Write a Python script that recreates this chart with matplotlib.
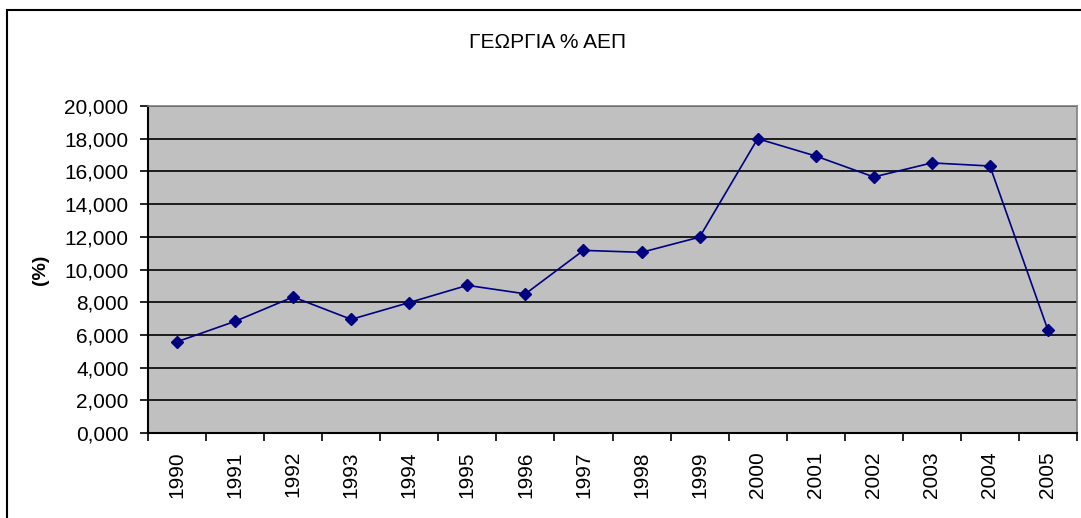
import matplotlib
matplotlib.use('Agg')
import matplotlib.pyplot as plt
from matplotlib.patches import Rectangle
from matplotlib.ticker import FuncFormatter

plt.rcParams['font.family'] = ['Liberation Sans', 'DejaVu Sans']

years = ['1990', '1991', '1992', '1993', '1994', '1995', '1996', '1997',
         '1998', '1999', '2000', '2001', '2002', '2003', '2004', '2005']
values = [5.58, 6.83, 8.32, 6.95, 7.98, 9.03, 8.51, 11.17,
          11.05, 11.98, 18.0, 16.94, 15.66, 16.52, 16.33, 6.29]

W, H = 1081, 518
fig = plt.figure(figsize=(W / 100, H / 100), dpi=100)
# outer chart border (cropped on right and bottom)
fig.patches.append(Rectangle((7 / W, -0.1), 1.2, 1 - 10 / H + 0.1, transform=fig.transFigure,
                             fill=False, edgecolor='black', linewidth=1.5))

left, right, top, bottom = 148, 1077, 106, 433
ax = fig.add_axes([left / W, 1 - bottom / H, (right - left) / W, (bottom - top) / H])
ax.set_facecolor('#C0C0C0')

x = list(range(len(years)))
ax.plot(x, values, color='#000080', linewidth=1.2, marker='D', markersize=6,
        markerfacecolor='#000080', markeredgecolor='#000080', zorder=3)

ax.set_xlim(-0.5, len(years) - 0.5)
ax.set_ylim(0, 20)
ax.set_yticks(range(0, 21, 2))
ax.yaxis.set_major_formatter(FuncFormatter(lambda v, p: '{:.3f}'.format(v).replace('.', ',')))
ax.grid(axis='y', color='black', linewidth=1.2)
ax.set_axisbelow(True)

ax.set_xticks([i - 0.5 for i in range(len(years) + 1)])
ax.set_xticklabels([])
ax.set_xticks(x, minor=True)
ax.set_xticklabels(years, minor=True, rotation=90)
ax.tick_params(axis='x', which='minor', length=0, pad=13, labelsize=15)
ax.tick_params(axis='x', which='major', length=6, width=1.2, direction='out')
ax.tick_params(axis='y', length=6, width=1.2, direction='out', labelsize=15, pad=8)

for s in ['top', 'right']:
    ax.spines[s].set_color('#808080')
    ax.spines[s].set_linewidth(1.2)
for s in ['left', 'bottom']:
    ax.spines[s].set_color('black')
    ax.spines[s].set_linewidth(1.5)

fig.text(40 / W, 1 - 270 / H, '(%)', rotation=90, ha='center', va='center',
         fontsize=14, fontweight='bold')
fig.text(548 / W, 1 - 42 / H, 'ΓΕΩΡΓΙΑ % ΑΕΠ', ha='center', va='center', fontsize=15)

fig.savefig('out.png', dpi=100)
